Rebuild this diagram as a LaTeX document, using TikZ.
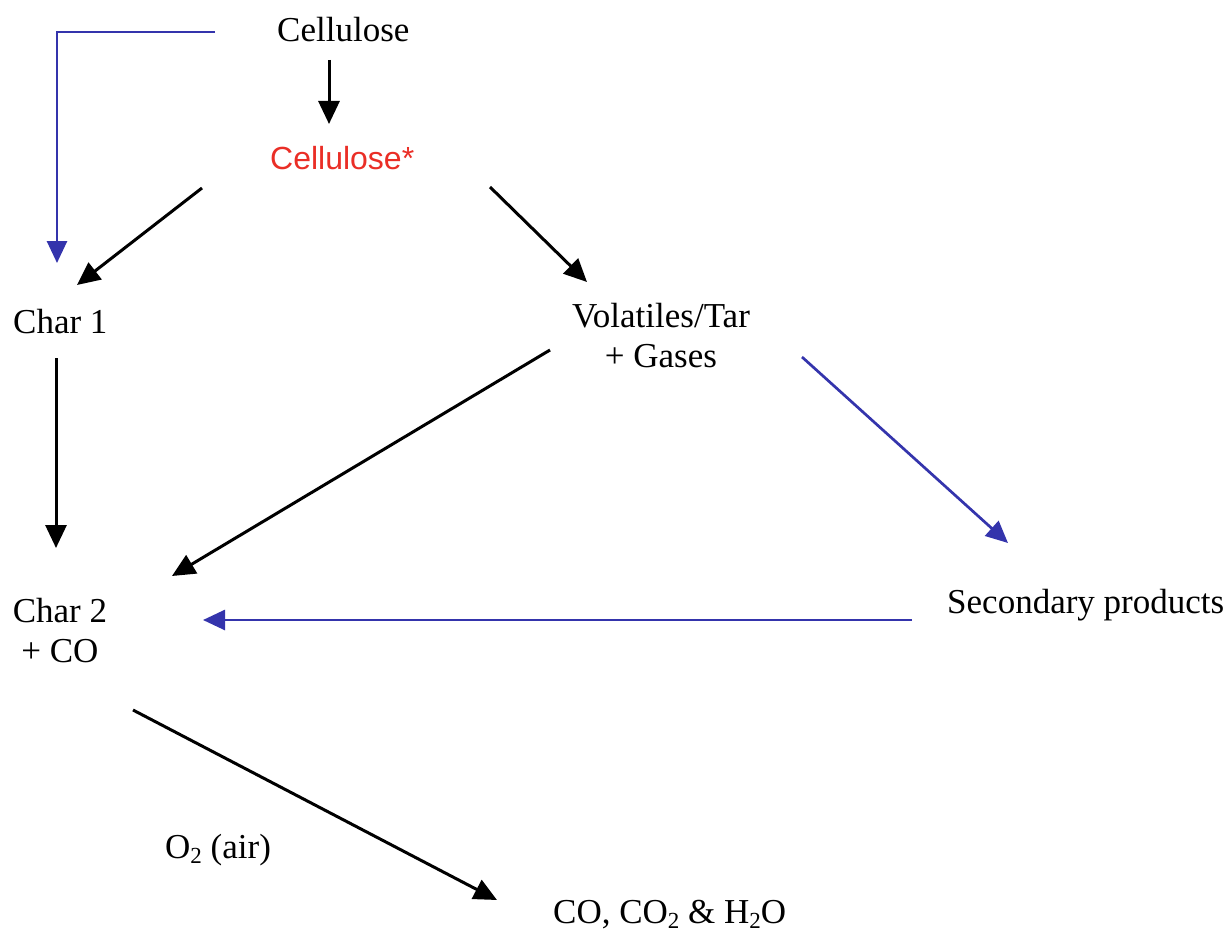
\documentclass[tikz,border=0pt]{standalone}
\usepackage{fontspec}
\setmainfont{Liberation Serif}
\newfontfamily\labelsans{Liberation Sans}
\usetikzlibrary{arrows.meta,calc}
\definecolor{sidepath}{RGB}{52,52,172}
\definecolor{activered}{RGB}{234,46,38}
% small lowered subscript for formulas
\newcommand\chemsub[1]{\raisebox{-5pt}{\fontsize{23}{24}\selectfont #1}}
\tikzset{
  lbl/.style={anchor=base west, inner sep=0pt, font=\fontsize{35}{40}\selectfont},
  stacked/.style={anchor=base, inner sep=0pt, align=center, font=\fontsize{35}{40}\selectfont},
  react/.style={draw=black, line width=3pt, -{Triangle[length=23pt,width=21pt]}},
  side/.style={draw=sidepath, line width=2.7pt, -{Triangle[length=22pt,width=20pt]}},
}
\begin{document}
\begin{tikzpicture}[x=1pt,y=-1pt]
\useasboundingbox (0,0) rectangle (1230,933);

% species (stacked nodes are placed by the baseline of their last line)
\node[lbl] (cell) at (277,42) {Cellulose};
\node[lbl, font=\labelsans\fontsize{32}{36}\selectfont, text=activered] (cellstar) at (270,170) {Cellulose*};
\node[lbl] (char1) at (13,333) {Char 1};
\node[stacked] (vol) at (661,367) {Volatiles/Tar\\+ Gases};
\node[stacked] (char2) at (60,662) {Char 2\\+ CO};
\node[lbl] (sec) at (947,613) {Secondary products};
\node[lbl] (oxy) at (165,858) {O\chemsub{2} (air)};
\node[lbl] (prod) at (553,923) {CO, CO\chemsub{2} \& H\chemsub{2}O};

% main reaction steps
\draw[react] ($(cell.base west)+(52,18)$) -- ($(cellstar.base west)+(59,-46)$);
\draw[react] ($(cellstar.base west)+(-68,18)$) -- ($(char1.base west)+(64,-48)$);
\draw[react] ($(cellstar.base west)+(220,17)$) -- ($(vol.base)+(-74,-85)$);
\draw[react] ($(char1.base west)+(43,25)$) -- ($(char2.base)+(-4,-114)$);
\draw[react] ($(vol.base)+(-111,-17)$) -- ($(char2.base)+(112,-86)$);
\draw[react] ($(char2.base)+(73,48)$) -- ($(prod.base west)+(-56,-23)$);

% side paths
\draw[side] ($(cell.base west)+(-62,-10)$) -| ($(char1.base west)+(44,-70)$);
\draw[side] ($(vol.base)+(141,-10)$) -- ($(sec.base west)+(61,-70)$);
\draw[side] ($(sec.base west)+(-35,7)$) -- ($(char2.base)+(143,-42)$);
\end{tikzpicture}
\end{document}
